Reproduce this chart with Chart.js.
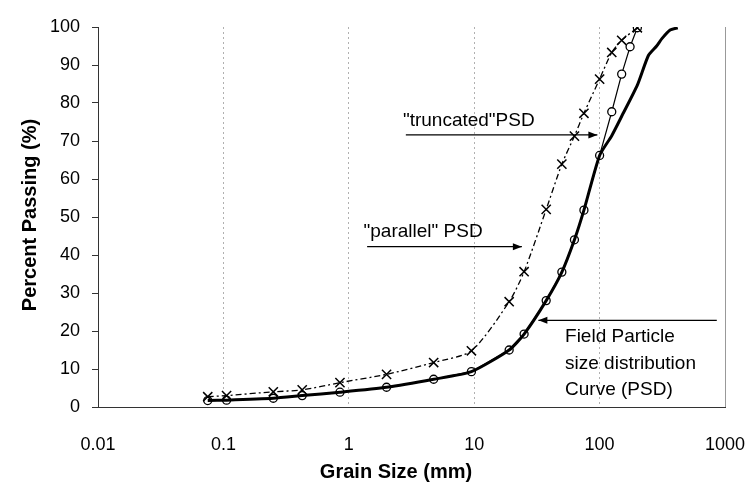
<!DOCTYPE html>
<html>
<head>
<meta charset="utf-8">
<title>Grain size distribution</title>
<script src="https://cdn.jsdelivr.net/npm/chart.js@4.4.1/dist/chart.umd.min.js"></script>
<style>
  html, body { margin: 0; padding: 0; background: #fff; }
  #wrap { width: 751px; height: 488px; position: relative; }
</style>
</head>
<body>
<div id="wrap"><canvas id="chartCanvas" width="751" height="488"></canvas></div>
<script>
// Valores de los ejes
const tickValues = [0.01, 0.1, 1, 10, 100, 1000];
const tickLabels = ['0.01', '0.1', '1', '10', '100', '1000'];

// Curva de campo (línea gruesa)
const fieldSizes = [0.075, 0.106, 0.25, 0.425, 0.85, 2, 4.75, 9.5, 19, 25, 37.5, 50, 63, 75, 100, 125, 150, 200, 245, 285, 315, 365, 420];
const fieldPassing = [1.7, 1.8, 2.3, 3.0, 3.9, 5.2, 7.3, 9.3, 15.0, 19.2, 28.0, 35.5, 44.0, 51.8, 66.2, 71.4, 76.5, 84.7, 92.5, 95.0, 97.0, 99.2, 99.8];

// Serie con círculos (línea fina)
const truncSizes = [0.075, 0.106, 0.25, 0.425, 0.85, 2, 4.75, 9.5, 19, 25, 37.5, 50, 63, 75, 100, 125, 150, 175, 200];
const truncPassing = [1.7, 1.8, 2.3, 3.0, 3.9, 5.2, 7.3, 9.3, 15.0, 19.2, 28.0, 35.5, 44.0, 51.8, 66.2, 77.7, 87.6, 94.8, 99.8];

// Serie con cruces (línea punto-raya)
const parallelSizes = [0.075, 0.106, 0.25, 0.425, 0.85, 2, 4.75, 9.5, 19, 25, 37.5, 50, 63, 75, 100, 125, 150, 200];
const parallelPassing = [2.7, 3.0, 4.0, 4.5, 6.4, 8.6, 11.7, 14.8, 27.7, 35.6, 52.0, 63.9, 71.3, 77.3, 86.3, 93.3, 96.5, 99.8];

const FONT = 'Arial, "Liberation Sans", sans-serif';

function toPoints(xs, ys) {
  return xs.map((x, i) => ({ x: x, y: ys[i] }));
}

// Dibuja una flecha entre dos puntos (en píxeles)
function arrow(ctx, x1, y1, x2, y2) {
  const ang = Math.atan2(y2 - y1, x2 - x1);
  ctx.beginPath();
  ctx.moveTo(x1, y1);
  ctx.lineTo(x2, y2);
  ctx.stroke();
  ctx.beginPath();
  ctx.moveTo(x2, y2);
  ctx.lineTo(x2 - 9 * Math.cos(ang) + 3.5 * Math.sin(ang), y2 - 9 * Math.sin(ang) - 3.5 * Math.cos(ang));
  ctx.lineTo(x2 - 9 * Math.cos(ang) - 3.5 * Math.sin(ang), y2 - 9 * Math.sin(ang) + 3.5 * Math.cos(ang));
  ctx.closePath();
  ctx.fill();
}

// Etiquetas y flechas, ubicadas en unidades de datos
const notesPlugin = {
  id: 'notes',
  afterDraw(chart) {
    const { ctx, scales: { x, y }, chartArea } = chart;
    const px = v => x.getPixelForValue(v);
    const py = v => y.getPixelForValue(v);
    ctx.save();
    ctx.fillStyle = '#000';
    ctx.strokeStyle = '#000';
    ctx.lineWidth = 1.4;

    ctx.font = '19px ' + FONT;
    ctx.textAlign = 'left';
    ctx.textBaseline = 'middle';
    ctx.fillText('"truncated"PSD', px(2.7), py(75.3));
    arrow(ctx, px(2.85), py(71.6), px(96), py(71.6));

    ctx.fillText('"parallel" PSD', px(1.31), py(46.2));
    arrow(ctx, px(1.4), py(42.2), px(24), py(42.2));

    ctx.fillText('Field Particle', px(53), py(18.4));
    ctx.fillText('size distribution', px(53), py(11.3));
    ctx.fillText('Curve (PSD)', px(53), py(4.6));
    arrow(ctx, px(860), py(22.8), px(32.5), py(22.8));

    // Títulos de los ejes
    ctx.font = 'bold 20px ' + FONT;
    ctx.textAlign = 'center';
    ctx.fillText('Grain Size (mm)', 396, 472);
    ctx.translate(30, (chartArea.top + chartArea.bottom) / 2 - 2);
    ctx.rotate(-Math.PI / 2);
    ctx.fillText('Percent Passing (%)', 0, 0);
    ctx.restore();

    // Borde derecho
    ctx.save();
    ctx.strokeStyle = '#999';
    ctx.lineWidth = 1;
    ctx.beginPath();
    ctx.moveTo(chartArea.right + 0.5, chartArea.top);
    ctx.lineTo(chartArea.right + 0.5, chartArea.bottom);
    ctx.stroke();
    ctx.restore();
  },
};

const ctx = document.getElementById('chartCanvas').getContext('2d');

new Chart(ctx, {
  type: 'line',
  data: {
    datasets: [
      {
        label: 'Field PSD',
        data: toPoints(fieldSizes, fieldPassing),
        borderColor: '#000',
        borderWidth: 3,
        pointRadius: 0,
        tension: 0.2,
        fill: false,
      },
      {
        label: '"parallel" PSD',
        data: toPoints(parallelSizes, parallelPassing),
        borderColor: '#000',
        borderWidth: 1.3,
        borderDash: [6, 3, 2, 3],
        pointStyle: 'crossRot',
        pointRadius: 6.5,
        pointBorderWidth: 1.5,
        pointBorderColor: '#000',
        tension: 0.25,
        fill: false,
      },
      {
        label: '"truncated" PSD',
        data: toPoints(truncSizes, truncPassing),
        borderColor: '#000',
        borderWidth: 1.2,
        pointStyle: 'circle',
        pointRadius: 4,
        pointBorderWidth: 1.3,
        pointBorderColor: '#000',
        pointBackgroundColor: '#fff',
        tension: 0,
        fill: false,
      },
    ],
  },
  options: {
    responsive: false,
    animation: false,
    layout: { padding: { left: 0, right: 26, top: 27, bottom: 0 } },
    plugins: {
      legend: { display: false },
      tooltip: { enabled: false },
    },
    scales: {
      x: {
        type: 'logarithmic',
        min: 0.01,
        max: 1000,
        afterBuildTicks: scale => {
          scale.ticks = tickValues.map(v => ({ value: v }));
        },
        afterFit: scale => {
          scale.height = 81;
          scale.paddingLeft = 0;
          scale.paddingRight = 0;
        },
        ticks: {
          autoSkip: false,
          maxRotation: 0,
          padding: 27,
          color: '#000',
          font: { family: FONT, size: 18 },
          callback: (value) => {
            const i = tickValues.findIndex(v => Math.abs(v - value) / v < 1e-6);
            return i >= 0 ? tickLabels[i] : '';
          },
        },
        grid: {
          drawOnChartArea: true,
          drawTicks: false,
          color: '#b0b0b0',
          lineWidth: 1,
        },
        border: { display: true, color: '#333', width: 1, dash: [2, 3] },
      },
      y: {
        min: 0,
        max: 100,
        afterFit: scale => {
          scale.width = 98;
          scale.paddingTop = 0;
          scale.paddingBottom = 0;
        },
        ticks: {
          stepSize: 10,
          padding: 12,
          color: '#000',
          font: { family: FONT, size: 18 },
        },
        grid: {
          drawOnChartArea: false,
          drawTicks: true,
          tickLength: 6,
          color: '#333',
        },
        border: { display: true, color: '#333', width: 1 },
      },
    },
  },
  plugins: [notesPlugin],
});
</script>
</body>
</html>
